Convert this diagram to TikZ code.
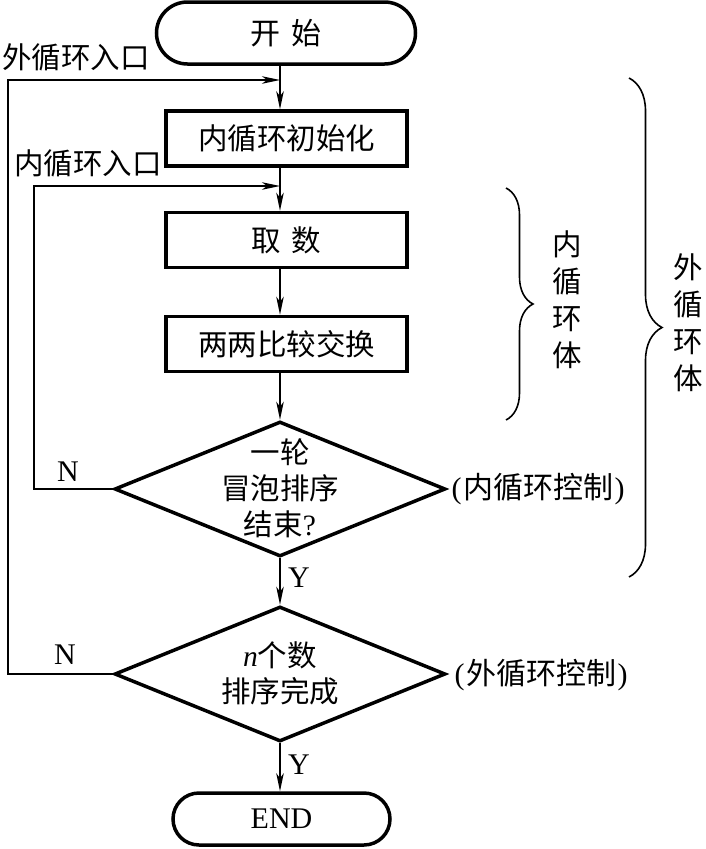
\documentclass[tikz,border=0pt]{standalone}
\usepackage{fontspec}
\setmainfont{Liberation Serif}
\newfontfamily\cjk{Noto Sans CJK SC}
\usetikzlibrary{arrows.meta,decorations.pathreplacing,shapes.geometric,shapes.misc}
\begin{document}
\begin{tikzpicture}[x=1pt,y=-1pt,
  txt/.style={inner sep=0pt,font=\fontsize{29.5}{36}\selectfont\cjk},
  box/.style={draw,line width=3.5pt,rectangle,minimum width=241pt,minimum height=55pt,inner sep=0pt,font=\fontsize{29.5}{34}\selectfont\cjk},
  term/.style={draw,line width=3.5pt,rounded rectangle,inner sep=0pt,font=\fontsize{30}{34}\selectfont},
  dia/.style={draw,diamond,line width=3.5pt,minimum width=331pt,minimum height=135pt,inner sep=0pt},
  conn/.style={line width=1.6pt},
  arr/.style={conn,-{Stealth[length=18pt,width=7.5pt,inset=5pt]}},
  brc/.style={line width=1.6pt,decorate},
  lat/.style={inner sep=0pt,font=\fontsize{30}{34}\selectfont}
]
\useasboundingbox (0,0) rectangle (706,849);

% nodes
\node[term,minimum width=259pt,minimum height=62pt] (start) at (286,33) {\cjk 开\hspace{0.35em}始};
\node[box] (init) at (286.5,138.5) {内循环初始化};
\node[box] (fetch) at (286.5,240) {取\hspace{0.35em}数};
\node[box] (swap) at (286.5,344) {两两比较交换};
\node[dia] (d1) at (280,489) {};
\node[txt,align=center] (d1t) at (280,488) {一轮\\冒泡排序\\结束{\rmfamily ?}};
\node[dia] (d2) at (280,674) {};
\node[txt,align=center] (d2t) at (280,673) {{\rmfamily\itshape n}个数\\排序完成};
\node[term,minimum width=217pt,minimum height=52pt] (end) at (281.5,819) {END};

% join coordinates on the main line
\coordinate (oj) at (280,80);
\coordinate (ij) at (280,186);
\coordinate (oc) at (8,80);
\coordinate (ic) at (34,186);

% main flow
\draw[arr] (start.south -| oj) -- (init.north -| oj);
\draw[arr] (init.south -| oj) -- (fetch.north -| oj);
\draw[arr] (fetch.south -| oj) -- (swap.north -| oj);
\draw[arr] (swap.south -| oj) -- (d1.north);
\draw[arr] (d1.south) -- (d2.north);
\draw[arr] (d2.south) -- (end.north -| oj);

% loops
\draw[arr] (d1.west) -| (ic) -- (ij);
\draw[arr] (d2.west) -| (oc) -- (oj);

% labels
\node[txt] (olab) at (76,57) {外循环入口};
\node[txt] (ilab) at (88,163) {内循环入口};
\node[lat] (n1) at (68,472) {N};
\node[lat] (n2) at (65,655) {N};
\node[lat] (y1) at (299,578) {Y};
\node[lat] (y2) at (299,765) {Y};
\node[lat] (c1) at (538,489) {(\hspace{0.05em}{\cjk 内循环控制}\hspace{0.05em})};
\node[lat] (c2) at (541,675) {(\hspace{0.05em}{\cjk 外循环控制}\hspace{0.05em})};

% braces
\coordinate (ibt) at (506,188);
\coordinate (ibb) at (506,420);
\coordinate (obt) at (629,78);
\coordinate (obb) at (629,577);
\draw[brc,decoration={brace,amplitude=27pt}] (ibt) -- (ibb);
\draw[brc,decoration={brace,amplitude=33pt}] (obt) -- (obb);
\node[txt,align=center,font=\fontsize{29.5}{37}\selectfont\cjk] (ilb) at (567,300) {内\\循\\环\\体};
\node[txt,align=center,font=\fontsize{29.5}{37}\selectfont\cjk] (olb) at (688,323) {外\\循\\环\\体};
\end{tikzpicture}
\end{document}
